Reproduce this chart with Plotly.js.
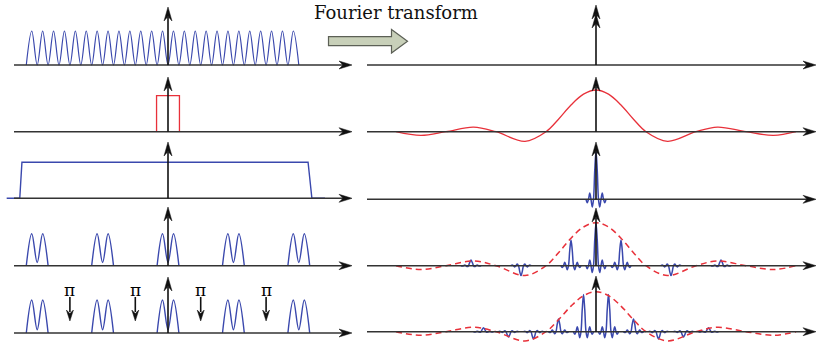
<!DOCTYPE html>
<html><head><meta charset="utf-8">
<script src="https://cdn.plot.ly/plotly-3.0.1.min.js"></script>
<style>html,body{margin:0;padding:0;background:#fff}#chart{width:819px;height:343px}</style>
</head><body><div id="chart"></div>
<script>
// ================= DATA =================
// Left column: time axis, 1 unit = one carrier period
const carrierTroughs = [-13,-12,-11,-10,-9,-8,-7,-6,-5,-4,-3,-2,-1,0,1,2,3,4,5,6,7,8,9,10,11,12];
const carrierPeaks = [-12.5,-11.5,-10.5,-9.5,-8.5,-7.5,-6.5,-5.5,-4.5,-3.5,-2.5,-1.5,-0.5,0.5,1.5,2.5,3.5,4.5,5.5,6.5,7.5,8.5,9.5,10.5,11.5];
const rectX = [-1.05,-1.05,1.05,1.05];
const rectY = [0,1,1,0];
const windowX = [-14.8,-13.6,-13.4,12.85,13.2,14.4];
const windowY = [0,0,1,1,0,0];
const groupCenters = [-12,-6,0,6,12];
const groupDx = [-1,-0.5,0,0.5,1];
const groupY = [0,1,0.1,1,0];
const phaseFlipX = [-9,-3,3,9];
const phaseLabel = 'π';
const titleText = 'Fourier transform';

// Right column: frequency axis, 1 unit = first zero of the sinc
const sincX = [-4,-3.5,-3,-2.45,-2,-1.42,-1,-0.75,-0.5,-0.25,0,0.25,0.5,0.75,1,1.43,2,2.43,3,3.55,4];
const sincY = [0,-0.09,0,0.11,0,-0.23,0,0.3,0.64,0.9,1,0.9,0.64,0.3,0,-0.23,0,0.11,0,-0.09,0];
const spikeDx = [-0.2,-0.175,-0.15,-0.125,-0.1,-0.075,-0.05,-0.025,0,0.025,0.05,0.075,0.1,0.125,0.15,0.175,0.2];
const spikeShape = [0,-0.07,0,0.13,0,-0.16,0,0.6,1,0.6,0,-0.16,0,0.13,0,-0.07,0];
const spikesR3X = [0];
const spikesR3H = [1.15];
const spikesR4X = [-2.5,-1.5,-0.5,0,0.5,1.5,2.5];
const spikesR4H = [0.13,-0.23,0.6,1.0,0.6,-0.23,0.13];
const spikesR5X = [-2.25,-1.75,-1.25,-0.75,-0.25,0.25,0.75,1.25,1.75,2.25];
const spikesR5H = [0.1,-0.13,-0.18,0.32,0.93,0.93,0.32,-0.18,-0.13,0.1];

// ================= STYLE / GEOMETRY =================
const W = 819, H = 343;
const BLUE = '#3a48ad', RED = '#e8313a', AXIS = '#333333', BLACK = '#111111';
const colGeom = [
  {px0: 0, px1: 360, zero: 168, unit: 10.9, from: 14, to: 352},
  {px0: 360, px1: 819, zero: 596, unit: 50, from: 367, to: 816}
];
const rowGeom = [
  [{base: 65, unit: 34, tip: 7}, {base: 65, unit: 42, tip: 5}],
  [{base: 131.7, unit: 36, tip: 77}, {base: 131.7, unit: 41.7, tip: 77}],
  [{base: 198.3, unit: 36, tip: 142}, {base: 199.3, unit: 42, tip: 142}],
  [{base: 265.7, unit: 32, tip: 207}, {base: 265.7, unit: 43, tip: 208}],
  [{base: 333, unit: 33, tip: 277}, {base: 331.7, unit: 40, tip: 276}]
];
function aid(r, c) { const k = r * 2 + c + 1; return k === 1 ? '' : String(k); }
function xU(c, px) { const g = colGeom[c]; return (px - g.zero) / g.unit; }
function yU(r, c, py) { const g = rowGeom[r][c]; return (g.base - py) / g.unit; }

// ================= TRACES =================
const traces = [];
function addTrace(r, c, x, y, line) {
  traces.push({x, y, xaxis: 'x' + aid(r, c), yaxis: 'y' + aid(r, c), mode: 'lines',
    line, hoverinfo: 'skip', showlegend: false, connectgaps: false});
}
// row 1 left: carrier
const carrierPts = carrierTroughs.map(v => [v, 0]).concat(carrierPeaks.map(v => [v, 1])).sort((a, b) => a[0] - b[0]);
addTrace(0, 0, carrierPts.map(p => p[0]), carrierPts.map(p => p[1]), {color: BLUE, width: 1.2, shape: 'spline', smoothing: 1});
// row 2 left: rect
addTrace(1, 0, rectX, rectY, {color: RED, width: 1.3});
// row 3 left: long window
addTrace(2, 0, windowX, windowY, {color: BLUE, width: 1.4});
// rows 4,5 left: pulse groups
const gx = [], gy = [];
groupCenters.forEach(c => { groupDx.forEach((d, j) => { gx.push(c + d); gy.push(groupY[j]); }); gx.push(null); gy.push(null); });
addTrace(3, 0, gx, gy, {color: BLUE, width: 1.4, shape: 'spline', smoothing: 1});
addTrace(4, 0, gx, gy, {color: BLUE, width: 1.4, shape: 'spline', smoothing: 1});
// right: sinc
addTrace(1, 1, sincX, sincY, {color: RED, width: 1.3, shape: 'spline', smoothing: 1});
function spikes(r, xs, hs) {
  const x = [], y = [];
  xs.forEach((c, i) => { spikeDx.forEach((d, j) => { x.push(c + d); y.push(hs[i] * spikeShape[j]); }); x.push(null); y.push(null); });
  addTrace(r, 1, x, y, {color: BLUE, width: 1.5, shape: 'spline', smoothing: 1});
}
spikes(2, spikesR3X, spikesR3H);
spikes(3, spikesR4X, spikesR4H);
spikes(4, spikesR5X, spikesR5H);
addTrace(3, 1, sincX, sincY, {color: RED, width: 1.5, dash: '6px,4px', shape: 'spline', smoothing: 1});
addTrace(4, 1, sincX, sincY, {color: RED, width: 1.5, dash: '6px,4px', shape: 'spline', smoothing: 1});

// ================= LAYOUT =================
const layout = {
  width: W, height: H, margin: {l: 0, r: 0, t: 0, b: 0},
  paper_bgcolor: '#ffffff', plot_bgcolor: 'rgba(0,0,0,0)', showlegend: false,
  shapes: [], annotations: []
};
for (let r = 0; r < 5; r++) {
  for (let c = 0; c < 2; c++) {
    const id = aid(r, c), cg = colGeom[c], rg = rowGeom[r][c];
    const xr = 'x' + id, yr = 'y' + id;
    layout['xaxis' + id] = {domain: [cg.px0 / W, cg.px1 / W], range: [xU(c, cg.px0), xU(c, cg.px1)],
      visible: false, fixedrange: true, anchor: yr};
    layout['yaxis' + id] = {domain: [0, 1], range: [(rg.base - H) / rg.unit, rg.base / rg.unit],
      visible: false, fixedrange: true, anchor: xr};
    // horizontal axis
    layout.shapes.push({type: 'line', xref: xr, yref: yr, x0: xU(c, cg.from), x1: xU(c, cg.to - 9), y0: 0, y1: 0,
      line: {color: AXIS, width: 1.4}});
    layout.shapes.push({type: 'path', xref: xr, yref: yr, xsizemode: 'pixel', ysizemode: 'pixel',
      xanchor: xU(c, cg.to), yanchor: 0, path: 'M0,0L-13,4L-9,0L-13,-4Z',
      fillcolor: BLACK, line: {color: BLACK, width: 0.5}});
    // vertical axis
    layout.shapes.push({type: 'line', xref: xr, yref: yr, x0: 0, x1: 0, y0: 0, y1: yU(r, c, rg.tip + 10),
      line: {color: BLACK, width: 1.6}});
    layout.shapes.push({type: 'path', xref: xr, yref: yr, xsizemode: 'pixel', ysizemode: 'pixel',
      xanchor: 0, yanchor: yU(r, c, rg.tip), path: 'M0,0L-4,-14L0,-9.5L4,-14Z',
      fillcolor: BLACK, line: {color: BLACK, width: 0.5}});
  }
}
// delta: second arrow head on top-right
layout.shapes.push({type: 'path', xref: 'x2', yref: 'y2', xsizemode: 'pixel', ysizemode: 'pixel',
  xanchor: 0, yanchor: yU(0, 1, 14), path: 'M0,0L-4,-14L0,-9.5L4,-14Z',
  fillcolor: BLACK, line: {color: BLACK, width: 0.5}});
// pi phase arrows
phaseFlipX.forEach(x => {
  layout.shapes.push({type: 'line', xref: 'x9', yref: 'y9', x0: x, x1: x, y0: yU(4, 0, 297), y1: yU(4, 0, 312),
    line: {color: BLACK, width: 1.6}});
  layout.shapes.push({type: 'path', xref: 'x9', yref: 'y9', xsizemode: 'pixel', ysizemode: 'pixel',
    xanchor: x, yanchor: yU(4, 0, 321), path: 'M0,0L-3.5,11L0,7.5L3.5,11Z',
    fillcolor: BLACK, line: {color: BLACK, width: 0.5}});
  layout.annotations.push({xref: 'x9', yref: 'y9', x: x, y: yU(4, 0, 290), text: phaseLabel, showarrow: false,
    xanchor: 'center', yanchor: 'middle', font: {family: 'DejaVu Serif', size: 17, color: '#000000'}});
});
// "Fourier transform" label and block arrow
layout.annotations.push({xref: 'paper', yref: 'paper', x: 312 / W, y: 1 - 13 / H, xanchor: 'left', yanchor: 'middle',
  text: titleText, showarrow: false, font: {family: 'DejaVu Serif', size: 18, color: BLACK}});
const arrowPts = [[328.5,36.7],[391.5,36.7],[391.5,29.5],[407.5,41.2],[391.5,53],[391.5,45.7],[328.5,45.7]];
layout.shapes.push({type: 'path', xref: 'paper', yref: 'paper',
  path: 'M' + arrowPts.map(p => (p[0] / W).toFixed(5) + ',' + (1 - p[1] / H).toFixed(5)).join('L') + 'Z',
  fillcolor: '#c8d0b9', line: {color: '#5c6056', width: 1.2}});

Plotly.newPlot('chart', traces, layout, {staticPlot: true, displayModeBar: false});
</script></body></html>
